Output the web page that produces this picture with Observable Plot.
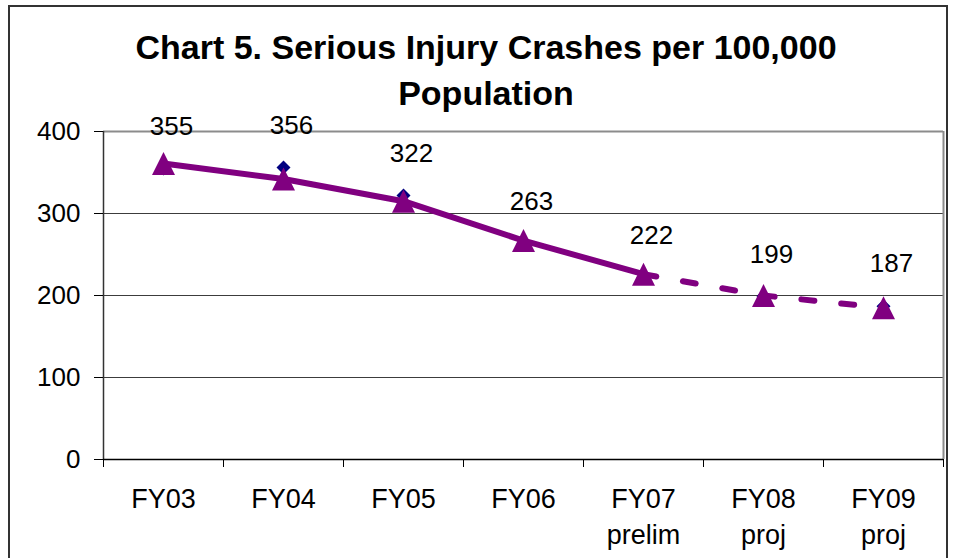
<!DOCTYPE html>
<html><head><meta charset="utf-8">
<script src="https://cdn.jsdelivr.net/npm/d3@7"></script>
<script src="https://cdn.jsdelivr.net/npm/@observablehq/plot@0.6"></script>
<style>
html,body{margin:0;padding:0;background:#fff;}
#wrap{position:relative;width:955px;height:558px;overflow:hidden;font-family:"Liberation Sans",Arial,sans-serif;}
#frame{position:absolute;left:8px;top:5px;width:936px;height:600px;border:2px solid #333;}
#title{position:absolute;left:16px;width:940px;top:24px;text-align:center;font-weight:bold;font-size:34px;line-height:46px;color:#000;}
#chart{position:absolute;left:0;top:0;}
</style></head>
<body><div id="wrap"><div id="frame"></div><div id="title">Chart 5. Serious Injury Crashes per 100,000<br>Population</div><div id="chart"></div></div>
<script>
const categories = ["FY03","FY04","FY05","FY06","FY07","FY08","FY09"];
const categoryNotes = ["","","","","prelim","proj","proj"];
const actualValues = [355,356,322,263,222,199,187];
const trendValues = [361,342,315,267,226,200,185];
const yTicks = [0,100,200,300,400];
const gridValues = [100,200,300];

const rows = categories.map((c,i)=>({i, cat:c, note:categoryNotes[i], actual:actualValues[i], trend:trendValues[i]}));
const solidRows = rows.filter(d => d.note !== "proj");
const dashedRows = rows.filter(d => d.note !== "");
const boundaries = d3.range(categories.length + 1).map(k => k - 0.5);

const tri = {draw(ctx, size){ const r = Math.sqrt(size/Math.PI); ctx.moveTo(0,-r); ctx.lineTo(r,r); ctx.lineTo(-r,r); ctx.closePath(); }};
const dia = {draw(ctx, size){ const r = Math.sqrt(size/Math.PI); ctx.moveTo(0,-r); ctx.lineTo(r,0); ctx.lineTo(0,r); ctx.lineTo(-r,0); ctx.closePath(); }};

const chart = Plot.plot({
  width:955, height:558, marginTop:131, marginLeft:103, marginRight:12, marginBottom:99,
  x:{domain:[-0.5, categories.length - 0.5]},
  y:{domain:[0,400]},
  style:{fontFamily:'"Liberation Sans", Arial, sans-serif', fontSize:"26px", background:"transparent", color:"#000", overflow:"visible"},
  marks:[
    Plot.ruleY(gridValues, {stroke:"#3c3c3c", strokeWidth:1}),
    Plot.ruleY([400], {stroke:"#8c8c8c", strokeWidth:2}),
    Plot.ruleX([categories.length - 0.5], {y1:0, y2:400, stroke:"#8c8c8c", strokeWidth:2}),
    Plot.ruleX([-0.5], {y1:0, y2:400, stroke:"#333", strokeWidth:1.5}),
    Plot.ruleY([0], {stroke:"#000", strokeWidth:1.5}),
    Plot.axisY({ticks:yTicks, tickSize:9, tickPadding:14, fontSize:26, tickFormat:d=>String(d), label:null}),
    Plot.axisX({ticks:boundaries, tickSize:8, tickFormat:()=>"", label:null}),
    Plot.axisX({ticks:rows.map(d=>d.i), tickSize:0, tickPadding:24, fontSize:27, lineHeight:1.3,
      tickFormat:i => categories[i] + (categoryNotes[i] ? "\n" + categoryNotes[i] : ""), label:null}),
    Plot.dot(rows, {x:"i", y:"actual", symbol:dia, r:7, fill:"#000080", stroke:"none"}),
    Plot.line(solidRows, {x:"i", y:"trend", stroke:"#800080", strokeWidth:6}),
    Plot.line(dashedRows, {x:"i", y:"trend", stroke:"#800080", strokeWidth:6, strokeDasharray:"13,27"}),
    Plot.dot(rows, {x:"i", y:"trend", symbol:tri, r:11.5, fill:"#800080", stroke:"none"}),
    Plot.text(rows, {x:"i", y:"actual", text:d=>String(d.actual), dx:8, dy:-42, fontSize:26, fill:"#000"})
  ]
});
document.getElementById("chart").appendChild(chart);
</script>
</body></html>
